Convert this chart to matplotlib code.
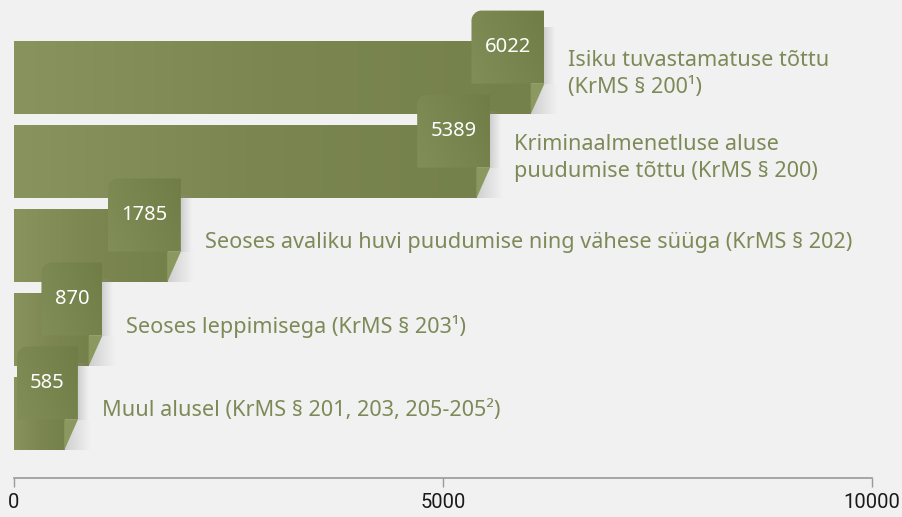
import numpy as np
import matplotlib
matplotlib.use("Agg")
import matplotlib.pyplot as plt
from matplotlib.path import Path
from matplotlib.patches import PathPatch, Polygon, Rectangle
from matplotlib.colors import LinearSegmentedColormap

values = [6022, 5389, 1785, 870, 585]
labels = [
    "Isiku tuvastamatuse tõttu\n(KrMS § 200¹)",
    "Kriminaalmenetluse aluse\npuudumise tõttu (KrMS § 200)",
    "Seoses avaliku huvi puudumise ning vähese süüga (KrMS § 202)",
    "Seoses leppimisega (KrMS § 203¹)",
    "Muul alusel (KrMS § 201, 203, 205-205²)",
]
x_ticks = [0, 5000, 10000]

BG = "#f1f1f1"
TEXT_C = "#7d8a58"
bar_cmap = LinearSegmentedColormap.from_list("bar", ["#89935d", "#7b8650", "#75814a"])
tab_cmap = LinearSegmentedColormap.from_list("tab", ["#818e57", "#707d46"])
shadow_cmap = LinearSegmentedColormap.from_list("sh", [(0.55, 0.55, 0.55, 0.35), (0.6, 0.6, 0.6, 0.0)])
FOLD_C = "#8b985f"

BAR_H = 0.88
TAB_RISE = 0.357
TAB_H = 0.87
TAB_OVER = 160      # tab sticks out past the bar end (x units)
SH_W = 150          # shadow width (x units)

plt.rcParams["font.family"] = ["Noto Sans", "DejaVu Sans"]

fig = plt.figure(figsize=(9.02, 5.17), dpi=100, facecolor=BG)
ax = fig.add_axes([14 / 902, 39 / 517, 858 / 902, 478 / 517])
ax.set_facecolor(BG)


def grad_fill(patch, x0, x1, y0, y1, cmap, z, diag=False):
    ax.add_patch(patch)
    if diag:
        gx, gy = np.meshgrid(np.linspace(0, 1, 64), np.linspace(0, 1, 64))
        g = 0.7 * gx + 0.3 * (1 - gy)
    else:
        g = np.linspace(0, 1, 256).reshape(1, -1)
    im = ax.imshow(g, extent=(x0, x1, y1, y0), origin="upper", cmap=cmap,
                   aspect="auto", interpolation="bilinear", zorder=z)
    im.set_clip_path(patch)


def tab_path(x0, x1, y0, y1, rx, ry):
    k = 0.55
    verts = [(x0, y1), (x0, y0 + ry),
             (x0, y0 + ry * (1 - k)), (x0 + rx * (1 - k), y0), (x0 + rx, y0),
             (x1, y0), (x1, y1), (x0, y1)]
    codes = [Path.MOVETO, Path.LINETO, Path.CURVE4, Path.CURVE4, Path.CURVE4,
             Path.LINETO, Path.LINETO, Path.CLOSEPOLY]
    return Path(verts, codes)


for i, (v, lab) in enumerate(zip(values, labels)):
    z = 2 + i * 10
    top = i - BAR_H / 2
    bot = i + BAR_H / 2
    # bar body
    body = Rectangle((0, top), v, BAR_H, facecolor="none", edgecolor="none", zorder=z)
    grad_fill(body, 0, v, top, bot, bar_cmap, z)
    ax.add_patch(Rectangle((0, top), v, BAR_H, facecolor="#7a874e", edgecolor="none",
                           zorder=z - 1))

    # tab
    tab_w = 850 if len(str(v)) >= 4 else 710
    t_right = v + TAB_OVER
    t_left = t_right - tab_w
    t_top = top - TAB_RISE
    t_bot = t_top + TAB_H

    # shadows to the right of tab and fold
    sh1 = Rectangle((t_right, t_top + 0.2), SH_W * 0.8, t_bot - t_top - 0.2,
                    facecolor="none", edgecolor="none")
    grad_fill(sh1, t_right, t_right + SH_W * 0.8, t_top, t_bot, shadow_cmap, z + 1)
    sh2 = Polygon([(t_right, t_bot), (t_right + SH_W, t_bot), (t_right + SH_W, bot), (v, bot)],
                  closed=True, facecolor="none", edgecolor="none")
    grad_fill(sh2, v, t_right + SH_W, t_bot, bot, shadow_cmap, z + 1)

    # fold
    ax.add_patch(Polygon([(v, t_bot), (t_right, t_bot), (v, bot)], closed=True,
                         facecolor=FOLD_C, edgecolor="none", zorder=z + 2))

    tp = PathPatch(tab_path(t_left, t_right, t_top, t_bot, 116, 0.12),
                   facecolor="none", edgecolor="none")
    grad_fill(tp, t_left, t_right, t_top, t_bot, tab_cmap, z + 3, diag=True)

    ax.text((t_left + t_right) / 2, (t_top + t_bot) / 2, str(v), color="white",
            fontsize=14.5, ha="center", va="center", zorder=z + 5)

    ax.text(t_right + 280, i - 0.04, lab, color=TEXT_C, fontsize=15.6,
            ha="left", va="center", linespacing=1.4, zorder=z + 5)

ax.set_xlim(0, 10000)
ax.set_ylim(4.768, -0.923)
ax.set_xticks(x_ticks)
ax.set_xticklabels([str(t) for t in x_ticks], fontsize=14.5, color="#1a1a1a",
                   family=["Roboto", "DejaVu Sans"])
ax.set_yticks([])
for s in ["left", "right", "top"]:
    ax.spines[s].set_visible(False)
ax.spines["bottom"].set_color("#999999")
ax.spines["bottom"].set_linewidth(1.2)
ax.tick_params(axis="x", direction="out", length=6.5, width=1, color="#999999", pad=4)

fig.savefig("out.png", dpi=100, facecolor=BG)
